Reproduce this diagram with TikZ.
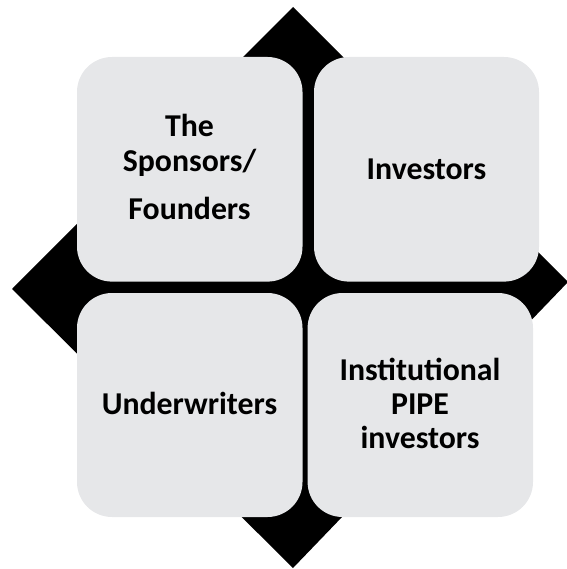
\documentclass[tikz,border=0pt]{standalone}
\usepackage{fontspec}
\setmainfont{Carlito}
\definecolor{boxfill}{RGB}{230,231,233}
\begin{document}
\begin{tikzpicture}[x=1pt,y=-1pt,
  quad/.style={fill=boxfill, draw=none, rectangle, rounded corners=35pt, inner sep=0pt},
  lbl/.style={font=\bfseries\fontsize{31.8}{34}\selectfont, anchor=base, inner sep=0pt}]
\useasboundingbox (0,0) rectangle (566,569);
% black diamond behind the boxes
\coordinate (dt) at (293,7);
\coordinate (dr) at (568,282);
\coordinate (db) at (293,568);
\coordinate (dl) at (12,289);
\fill[black] (dt) -- (dr) -- (db) -- (dl) -- cycle;
% four rounded boxes
\node[quad, minimum width=225.5pt, minimum height=224.6pt] (tl) at (189.75,169.3) {};
\node[quad, minimum width=225pt, minimum height=224.6pt] (tr) at (426.5,169.3) {};
\node[quad, minimum width=225.5pt, minimum height=224pt] (bl) at (189.75,405) {};
\node[quad, minimum width=225.4pt, minimum height=224pt] (br) at (420.3,405) {};
% labels
\node[lbl] (t1) at (189.5,137) {The};
\node[lbl] (t2) at (189.5,171.5) {Sponsors/};
\node[lbl] (t3) at (189.5,219.5) {Founders};
\node[lbl] (t4) at (426.5,179) {Investors};
\node[lbl] (t5) at (189.5,414.5) {Underwriters};
\node[lbl] (t6) at (420,380) {Institutional};
\node[lbl] (t7) at (420,414) {PIPE};
\node[lbl] (t8) at (420,448) {investors};
\end{tikzpicture}
\end{document}
